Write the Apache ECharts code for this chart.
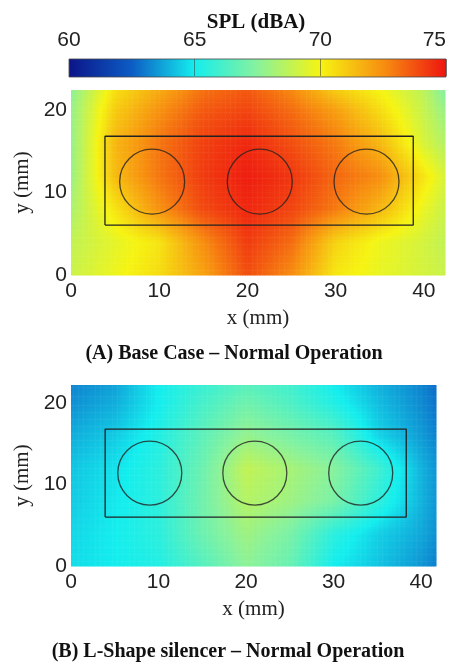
<!DOCTYPE html>
<html>
<head>
<meta charset="utf-8">
<script src="https://cdn.jsdelivr.net/npm/echarts@6/dist/echarts.min.js"></script>
<style>
  html, body { margin: 0; padding: 0; background: #fff; }
  #chart { width: 462px; height: 667px; }
</style>
</head>
<body>
<div id="chart"></div>
<script>
// colour scale (SPL, dBA)
var splMin = 60, splMax = 75;
var jetColors = ['#0c1488', '#0c5cc4', '#14eeee', '#88f29c', '#f6f412', '#f78e10', '#ee1410'];

// (A) base case - grid nodes (mm) and SPL, rows from y=0 upward
var xNodesA = [0, 5, 10, 15, 20, 25, 30, 35, 40, 42.4];
var yNodesA = [0, 4, 8, 12, 16, 20, 22.4];
var splA = [
  [69.0, 69.8, 70.6, 72.0, 73.8, 72.5, 70.3, 69.7, 69.2, 69.0],
  [68.8, 69.6, 70.4, 72.5, 74.2, 73.2, 70.8, 69.8, 69.2, 68.8],
  [68.3, 70.4, 72.4, 73.9, 74.6, 74.0, 72.9, 71.5, 69.7, 69.0],
  [67.9, 71.4, 73.0, 74.2, 74.8, 74.3, 73.3, 72.5, 70.4, 69.3],
  [67.8, 71.5, 73.0, 74.1, 74.6, 73.8, 72.9, 71.5, 69.3, 68.5],
  [67.8, 71.0, 72.4, 73.6, 74.0, 73.2, 72.1, 70.6, 68.9, 67.9],
  [67.6, 70.5, 71.8, 73.1, 73.6, 72.6, 71.0, 70.0, 68.7, 67.4]
];

// (B) L-shape silencer
var xNodesB = [0, 5, 10, 15, 20, 25, 30, 35, 40, 41.7];
var yNodesB = [0, 4, 8, 12, 16, 20, 22.2];
var splB = [
  [64.7, 65.0, 65.3, 66.4, 67.6, 66.8, 65.0, 64.3, 63.5, 63.1],
  [64.6, 65.0, 65.5, 66.9, 68.0, 67.2, 65.5, 64.5, 63.8, 63.4],
  [64.4, 64.9, 65.5, 67.0, 68.5, 68.0, 67.2, 65.6, 64.0, 63.5],
  [64.3, 64.8, 65.5, 66.9, 68.8, 68.2, 67.5, 66.0, 64.0, 63.5],
  [63.9, 64.4, 65.3, 66.6, 67.8, 67.2, 66.5, 64.6, 63.6, 63.2],
  [63.4, 63.9, 65.0, 66.1, 67.0, 66.3, 65.3, 64.2, 63.3, 62.9],
  [63.2, 63.7, 65.0, 65.8, 66.5, 66.0, 65.0, 64.0, 63.2, 62.8]
];

// outline of the box and the three holes (mm)
var boxXA = [3.85, 38.8, 38.8, 3.85, 3.85];
var boxYA = [6.05, 6.05, 16.8, 16.8, 6.05];
var holeXA = [9.2, 21.4, 33.5];
var holeYA = [11.3, 11.3, 11.3];

var boxXB = [3.9, 38.3, 38.3, 3.9, 3.9];
var boxYB = [6.0, 6.0, 16.8, 16.8, 6.0];
var holeXB = [9.0, 21.0, 33.1];
var holeYB = [11.4, 11.4, 11.4];

function splColor(v) {
  var t = (v - splMin) / (splMax - splMin);
  t = Math.max(0, Math.min(1, t));
  return echarts.color.lerp(t, jetColors);
}

function heatSeries(xNodes, yNodes, vals, idx) {
  var data = [];
  for (var j = 0; j < yNodes.length - 1; j++) {
    for (var i = 0; i < xNodes.length - 1; i++) {
      data.push([xNodes[i], yNodes[j], i, j]);
    }
  }
  return {
    type: 'custom',
    xAxisIndex: idx,
    yAxisIndex: idx,
    silent: true,
    z: 1,
    encode: { x: 0, y: 1 },
    renderItem: function (params, api) {
      var i = api.value(2), j = api.value(3);
      var p0 = api.coord([xNodes[i], yNodes[j]]);
      var p1 = api.coord([xNodes[i + 1], yNodes[j + 1]]);
      var w = p1[0] - p0[0], h = p0[1] - p1[1];
      var nx = Math.max(1, Math.ceil(w / 2.5)), ny = Math.max(1, Math.ceil(h / 2.5));
      var v00 = vals[j][i], v10 = vals[j][i + 1], v01 = vals[j + 1][i], v11 = vals[j + 1][i + 1];
      var children = [];
      for (var a = 0; a < nx; a++) {
        for (var b = 0; b < ny; b++) {
          var u = (a + 0.5) / nx, t = (b + 0.5) / ny;
          var v = v00 * (1 - u) * (1 - t) + v10 * u * (1 - t) + v01 * (1 - u) * t + v11 * u * t;
          children.push({
            type: 'rect',
            shape: { x: p0[0] + a * w / nx, y: p0[1] - (b + 1) * h / ny, width: w / nx + 0.5, height: h / ny + 0.5 },
            style: { fill: splColor(v) }
          });
        }
      }
      return { type: 'group', children: children };
    },
    data: data
  };
}

function boxSeries(xs, ys, idx) {
  return {
    type: 'line', xAxisIndex: idx, yAxisIndex: idx, silent: true, z: 3,
    showSymbol: false,
    lineStyle: { color: '#222', width: 1.3 },
    data: xs.map(function (x, k) { return [x, ys[k]]; })
  };
}

function holeSeries(xs, ys, idx, size) {
  return {
    type: 'scatter', xAxisIndex: idx, yAxisIndex: idx, silent: true, z: 3,
    symbol: 'circle', symbolSize: size,
    itemStyle: { color: 'rgba(0,0,0,0)', borderColor: '#222', borderWidth: 1.3 },
    data: xs.map(function (x, k) { return [x, ys[k]]; })
  };
}

var tickFont = { fontFamily: 'Liberation Sans', fontSize: 21, color: '#222' };
var nameFont = { fontFamily: 'Liberation Serif', fontSize: 21, color: '#222' };

function xAx(idx, max) {
  return {
    gridIndex: idx, type: 'value', min: 0, max: max, interval: 10,
    axisLine: { show: false }, axisTick: { show: false }, splitLine: { show: false },
    axisLabel: Object.assign({ margin: 6, showMaxLabel: false }, tickFont),
    name: 'x (mm)', nameLocation: 'middle', nameGap: 33, nameTextStyle: nameFont
  };
}
function yAx(idx, max) {
  return {
    gridIndex: idx, type: 'value', min: 0, max: max, interval: 10,
    axisLine: { show: false }, axisTick: { show: false }, splitLine: { show: false },
    axisLabel: Object.assign({ margin: 4, showMaxLabel: false }, tickFont),
    name: 'y (mm)', nameLocation: 'middle', nameGap: 31, nameRotate: 90, nameTextStyle: nameFont
  };
}

var chart = echarts.init(document.getElementById('chart'));
chart.setOption({
  animation: false,
  backgroundColor: '#fff',
  grid: [
    { left: 69, top: 59, width: 377, height: 18 },
    { left: 71, top: 90, width: 374, height: 185 },
    { left: 71, top: 385, width: 365, height: 181 }
  ],
  xAxis: [
    {
      gridIndex: 0, type: 'value', position: 'top', min: splMin, max: splMax, interval: 5, z: 5,
      axisLine: { show: false, onZero: false },
      axisTick: { show: true, inside: true, length: 17, lineStyle: { color: 'rgba(60,60,60,0.55)' } },
      splitLine: { show: false },
      axisLabel: Object.assign({ margin: 8, alignMaxLabel: 'right' }, tickFont)
    },
    xAx(1, 42.4),
    xAx(2, 41.7)
  ],
  yAxis: [
    { gridIndex: 0, type: 'value', min: 0, max: 1, show: false },
    yAx(1, 22.4),
    yAx(2, 22.2)
  ],
  graphic: [
    { type: 'text', x: 256, y: 23, style: { text: 'SPL (dBA)', font: 'bold 21px "Liberation Serif"', fill: '#111', align: 'center', verticalAlign: 'middle' } },
    { type: 'text', x: 234, y: 354, style: { text: '(A) Base Case \u2013 Normal Operation', font: 'bold 20px "Liberation Serif"', fill: '#111', align: 'center', verticalAlign: 'middle' } },
    { type: 'text', x: 228, y: 652, style: { text: '(B) L-Shape silencer \u2013 Normal Operation', font: 'bold 20px "Liberation Serif"', fill: '#111', align: 'center', verticalAlign: 'middle' } }
  ],
  series: [
    {
      type: 'custom', xAxisIndex: 0, yAxisIndex: 0, silent: true, z: 1,
      renderItem: function (params, api) {
        var p0 = api.coord([splMin, 0]);
        var p1 = api.coord([splMax, 1]);
        var stops = jetColors.map(function (c, k) { return { offset: k / (jetColors.length - 1), color: c }; });
        return {
          type: 'rect',
          shape: { x: p0[0], y: p1[1], width: p1[0] - p0[0], height: p0[1] - p1[1] },
          style: { fill: new echarts.graphic.LinearGradient(0, 0, 1, 0, stops), stroke: 'rgba(70,70,70,0.8)', lineWidth: 1 }
        };
      },
      data: [[splMin, 0]]
    },
    heatSeries(xNodesA, yNodesA, splA, 1),
    boxSeries(boxXA, boxYA, 1),
    holeSeries(holeXA, holeYA, 1, 65),
    heatSeries(xNodesB, yNodesB, splB, 2),
    boxSeries(boxXB, boxYB, 2),
    holeSeries(holeXB, holeYB, 2, 64)
  ]
});
</script>
</body>
</html>
